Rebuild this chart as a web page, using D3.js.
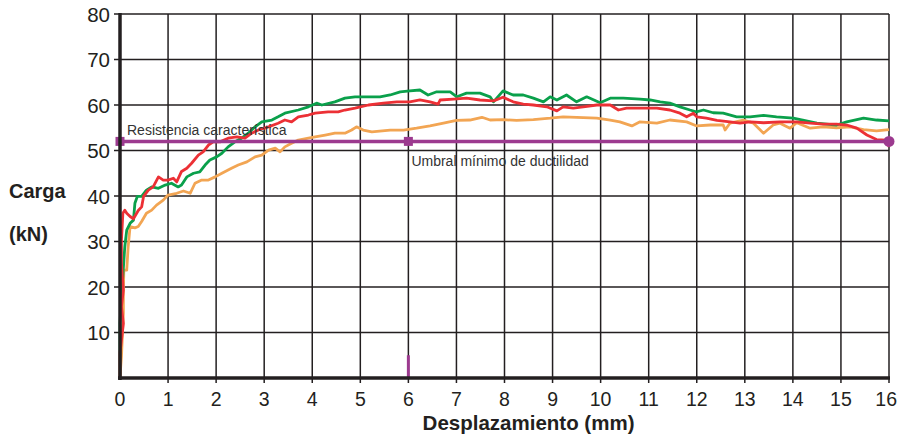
<!DOCTYPE html>
<html>
<head>
<meta charset="utf-8">
<script src="https://cdn.jsdelivr.net/npm/d3@7"></script>
<style>
  body { margin: 0; background: #fff; }
  svg { display: block; font-family: "Liberation Sans", Arial, sans-serif; }
</style>
</head>
<body>
<div class="canvas"></div>
<script>
// displacement (mm), load (kN)
const green = [
  [0,0],[0,6],[0,12],[0.03,17.9],[0.1,28.9],[0.14,32.5],[0.21,34],[0.28,34.7],[0.31,38.4],[0.36,39.9],
  [0.45,39.9],[0.55,41.3],[0.66,42],[0.8,41.7],[0.94,42.4],[1.07,42.8],[1.21,42],[1.28,42.4],[1.39,44.2],
  [1.53,45],[1.66,45.3],[1.77,46.8],[1.87,47.9],[2.01,48.6],[2.12,49.4],[2.25,50.8],[2.39,51.9],[2.53,52.7],
  [2.67,53.8],[2.81,55.2],[2.95,56.3],[3.16,56.7],[3.29,57.4],[3.43,58.2],[3.71,58.9],[3.92,59.6],[4.09,60.4],
  [4.2,60],[4.47,60.7],[4.68,61.5],[4.89,61.8],[5.17,61.8],[5.41,61.8],[5.62,62.2],[5.83,62.9],[6.03,63.1],
  [6.24,63.3],[6.41,62.2],[6.59,62.9],[6.87,62.9],[7.01,61.8],[7.21,62.6],[7.49,62.6],[7.7,61.8],[7.77,60.7],
  [7.97,63.1],[8.18,62.2],[8.39,62.2],[8.6,61.5],[8.81,60.7],[8.95,61.8],[9.09,61.1],[9.29,62.2],[9.5,60.7],
  [9.71,61.8],[9.99,60.5],[10.2,61.5],[10.47,61.5],[10.82,61.3],[11.03,61.1],[11.24,60.7],[11.44,60.4],
  [11.65,59.6],[11.86,58.9],[11.99,58.5],[12.14,58.9],[12.34,58.3],[12.55,58.2],[12.83,57.4],[13.11,57.4],
  [13.39,57.7],[13.66,57.4],[14.01,57.1],[14.5,56],[14.91,55.6],[15.12,56.3],[15.47,57.1],[15.74,56.7],[16,56.5]
];
const red = [
  [0,0],[0,1],[0,5.5],[0.03,8.3],[0.07,12],[0.03,15.7],[0.07,19.3],[0.03,25.2],[0.03,30.3],[0.06,36.2],
  [0.1,36.9],[0.14,36.2],[0.21,35.5],[0.28,35],[0.38,36.8],[0.45,37.6],[0.49,39.9],[0.59,41.3],[0.69,42],
  [0.8,44.2],[0.9,43.5],[1,43.5],[1.11,43.9],[1.18,43.1],[1.28,45.4],[1.39,46.1],[1.49,47.2],[1.63,49],
  [1.73,49.7],[1.84,51.2],[1.94,51.9],[2.08,51.9],[2.25,52.7],[2.43,53],[2.6,52.7],[2.74,53.8],[2.88,54.5],
  [3.09,55.2],[3.29,56],[3.43,56.7],[3.57,56.3],[3.71,57.4],[3.92,57.8],[4.06,58.2],[4.33,58.5],[4.54,58.5],
  [4.68,58.9],[4.89,59.3],[5.17,60],[5.48,60.4],[5.76,60.7],[6.03,60.7],[6.24,61.1],[6.45,60.7],[6.62,60.2],
  [6.66,61.1],[6.94,61.3],[7.21,61.5],[7.49,61.1],[7.77,60.9],[7.97,61.7],[8.18,60.7],[8.39,60.2],[8.6,60],
  [8.88,59.6],[9.09,58.7],[9.22,59.6],[9.43,59.3],[9.64,59.6],[9.92,60],[10.2,60],[10.37,58.9],[10.54,59.3],
  [10.89,59.3],[11.17,59.3],[11.44,58.9],[11.65,58.2],[11.79,57.4],[11.93,58.2],[12,57.4],[12.2,57.1],
  [12.42,56.6],[12.69,56.3],[12.9,56],[13.11,56.3],[13.39,56.1],[13.73,56.3],[14.08,56.3],[14.36,56],
  [14.63,55.8],[14.91,55.8],[15.12,55.6],[15.33,54.9],[15.54,53.4],[15.74,52.4],[15.95,52.3],[16,50.8]
];
const orange = [
  [0,0.3],[0.03,4.7],[0.07,14.3],[0.07,19.3],[0.08,23.7],[0.14,23.7],[0.17,28.9],[0.21,33.3],[0.31,33],
  [0.38,33.3],[0.45,34.4],[0.55,36.2],[0.66,36.9],[0.76,38],[0.9,39.1],[1,40.2],[1.18,40.6],[1.32,41.1],
  [1.46,40.6],[1.56,42.8],[1.7,43.5],[1.84,43.5],[1.98,44.2],[2.12,45],[2.32,46.1],[2.46,46.8],[2.64,47.5],
  [2.81,48.6],[2.95,49],[3.09,50.1],[3.23,50.5],[3.33,49.7],[3.43,50.8],[3.57,51.6],[3.71,52.3],[3.92,52.7],
  [4.06,53],[4.27,53.4],[4.47,53.8],[4.68,53.8],[4.82,54.5],[4.92,55.2],[5.06,54.5],[5.24,54.1],[5.62,54.5],
  [5.9,54.5],[6.17,54.9],[6.45,55.4],[6.73,56],[7,56.6],[7.28,56.7],[7.53,57.3],[7.7,56.7],[7.97,56.8],
  [8.25,56.6],[8.6,56.8],[8.95,57.1],[9.22,57.4],[9.5,57.3],[9.92,57.1],[10.2,56.7],[10.4,56.3],[10.65,55.4],
  [10.82,56.3],[11.17,56],[11.44,56.7],[11.79,56.3],[12,55.4],[12.28,55.6],[12.55,55.6],[12.59,54.5],
  [12.69,56],[12.97,56.7],[13.18,56],[13.39,53.8],[13.59,55.6],[13.73,56],[13.94,54.9],[14.08,56.1],
  [14.36,54.9],[14.63,55.2],[14.91,55],[15.19,55.2],[15.47,54.6],[15.74,54.3],[16,54.6]
];

const xTicks = d3.range(0, 17);
const yTicks = [10, 20, 30, 40, 50, 60, 70, 80];
const threshold = 52;          // Resistencia característica
const ductility = 6;           // Umbral mínimo de ductilidad (mm)

const width = 898;
const height = 436;
const marginTop = 14;
const marginRight = 9;
const marginBottom = 58;
const marginLeft = 120;

const x = d3.scaleLinear().domain([0, 16]).range([marginLeft, width - marginRight]);
const y = d3.scaleLinear().domain([0, 80]).range([height - marginBottom, marginTop]);

const svg = d3.select(".canvas").append("svg")
  .attr("width", width)
  .attr("height", height);

// grid
svg.append("g")
  .selectAll("line")
  .data(yTicks)
  .join("line")
    .attr("x1", marginLeft - 6)
    .attr("x2", x(16))
    .attr("y1", d => y(d))
    .attr("y2", d => y(d))
    .attr("stroke", "#231f20")
    .attr("stroke-width", 1.5);

svg.append("g")
  .selectAll("line")
  .data(xTicks.slice(1))
  .join("line")
    .attr("x1", d => x(d))
    .attr("x2", d => x(d))
    .attr("y1", y(80))
    .attr("y2", y(0) + 5)
    .attr("stroke", "#231f20")
    .attr("stroke-width", 1.5);

// tick labels
svg.append("g")
  .selectAll("text")
  .data(yTicks)
  .join("text")
    .attr("x", marginLeft - 10)
    .attr("y", d => y(d) + 7.5)
    .attr("text-anchor", "end")
    .attr("font-size", 20.5)
    .attr("fill", "#231f20")
    .text(d => d);

// last label would run past the edge, so it's right-aligned to it
svg.append("g")
  .selectAll("text")
  .data(xTicks)
  .join("text")
    .attr("x", d => d === 16 ? width - 1 : x(d))
    .attr("y", y(0) + 28)
    .attr("text-anchor", d => d === 16 ? "end" : "middle")
    .attr("font-size", 19.5)
    .attr("fill", "#231f20")
    .text(d => d);

// titles
svg.append("text")
  .attr("x", 9).attr("y", 198)
  .attr("font-size", 20).attr("font-weight", "bold").attr("fill", "#231f20")
  .text("Carga");
svg.append("text")
  .attr("x", 9).attr("y", 241)
  .attr("font-size", 20).attr("font-weight", "bold").attr("fill", "#231f20")
  .text("(kN)");
svg.append("text")
  .attr("x", x(8.5)).attr("y", 430)
  .attr("text-anchor", "middle")
  .attr("font-size", 20.5).attr("font-weight", "bold").attr("fill", "#231f20")
  .text("Desplazamiento (mm)");

// curves
const line = d3.line().x(d => x(d[0])).y(d => y(d[1]));
const series = [
  { data: orange, color: "#f2a553" },
  { data: green, color: "#0aa04b" },
  { data: red, color: "#ec3035" }
];
svg.append("g")
  .selectAll("path")
  .data(series)
  .join("path")
    .attr("d", d => line(d.data))
    .attr("fill", "none")
    .attr("stroke", d => d.color)
    .attr("stroke-width", 2.8)
    .attr("stroke-linejoin", "round");

// threshold line + markers
const purple = "#9c3a8f";
svg.append("line")
  .attr("x1", x(0)).attr("x2", x(16))
  .attr("y1", y(threshold)).attr("y2", y(threshold))
  .attr("stroke", purple).attr("stroke-width", 3.5);
svg.append("line")
  .attr("x1", x(ductility)).attr("x2", x(ductility))
  .attr("y1", y(0)).attr("y2", y(5))
  .attr("stroke", purple).attr("stroke-width", 3);
svg.append("g")
  .selectAll("rect")
  .data([0, ductility])
  .join("rect")
    .attr("x", d => x(d) - 4.5)
    .attr("y", y(threshold) - 4.5)
    .attr("width", 9).attr("height", 9)
    .attr("fill", purple);
svg.append("circle")
  .attr("cx", x(16)).attr("cy", y(threshold)).attr("r", 5.5)
  .attr("fill", purple);

// axes
svg.append("line")
  .attr("x1", x(0)).attr("x2", x(0))
  .attr("y1", y(80) - 1).attr("y2", y(0) + 2)
  .attr("stroke", "#231f20").attr("stroke-width", 3.5);
svg.append("line")
  .attr("x1", x(0) - 2).attr("x2", x(16) + 1)
  .attr("y1", y(0)).attr("y2", y(0))
  .attr("stroke", "#231f20").attr("stroke-width", 3.5);

// annotations
svg.append("text")
  .attr("x", x(0) + 7).attr("y", y(threshold) - 6)
  .attr("font-size", 14).attr("fill", "#333")
  .text("Resistencia característica");
svg.append("text")
  .attr("x", x(ductility) + 3).attr("y", y(threshold) + 25)
  .attr("font-size", 14).attr("fill", "#333")
  .text("Umbral mínimo de ductilidad");
</script>
</body>
</html>
